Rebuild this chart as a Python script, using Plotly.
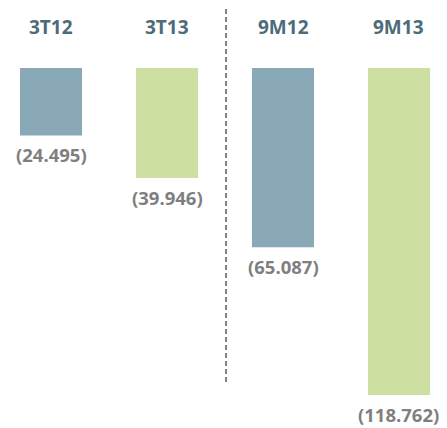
import plotly.graph_objects as go

categories = ["3T12", "3T13", "9M12", "9M13"]
values = [-24.495, -39.946, -65.087, -118.762]
labels = ["(24.495)", "(39.946)", "(65.087)", "(118.762)"]
colors = ["#8AA9B6", "#CEE0A1", "#8AA9B6", "#CEE0A1"]

xs = list(range(len(categories)))

fig = go.Figure()
fig.add_trace(go.Bar(
    x=xs, y=values,
    marker=dict(color=colors, line=dict(width=0)),
    width=0.535,
))

# value labels under each bar
for x, v, t in zip(xs, values, labels):
    fig.add_annotation(x=x, y=v, text="<b>" + t + "</b>", showarrow=False,
                       yanchor="top", yshift=-5,
                       font=dict(family="Open Sans", size=18.5, color="#7F7F7F"))

# category labels across the top
for x, c in zip(xs, categories):
    fig.add_annotation(x=x, y=0.956, yref="paper", text="<b>" + c + "</b>", showarrow=False,
                       yanchor="middle",
                       font=dict(family="Open Sans", size=19, color="#4D6B78"))

# separator between quarter and nine-month blocks
fig.add_shape(type="line", xref="x", yref="paper", x0=1.509, x1=1.509, y0=0.126, y1=1.0,
              line=dict(color="#808080", width=2, dash="5px,3px"))

fig.update_layout(
    width=447, height=428,
    margin=dict(l=0, r=0, t=0, b=0),
    paper_bgcolor="white", plot_bgcolor="white",
    showlegend=False,
    xaxis=dict(range=[-0.371, 3.483], visible=False),
    yaxis=dict(range=[-133.7, 21.8], visible=False),
)
fig.write_html("out.html")
